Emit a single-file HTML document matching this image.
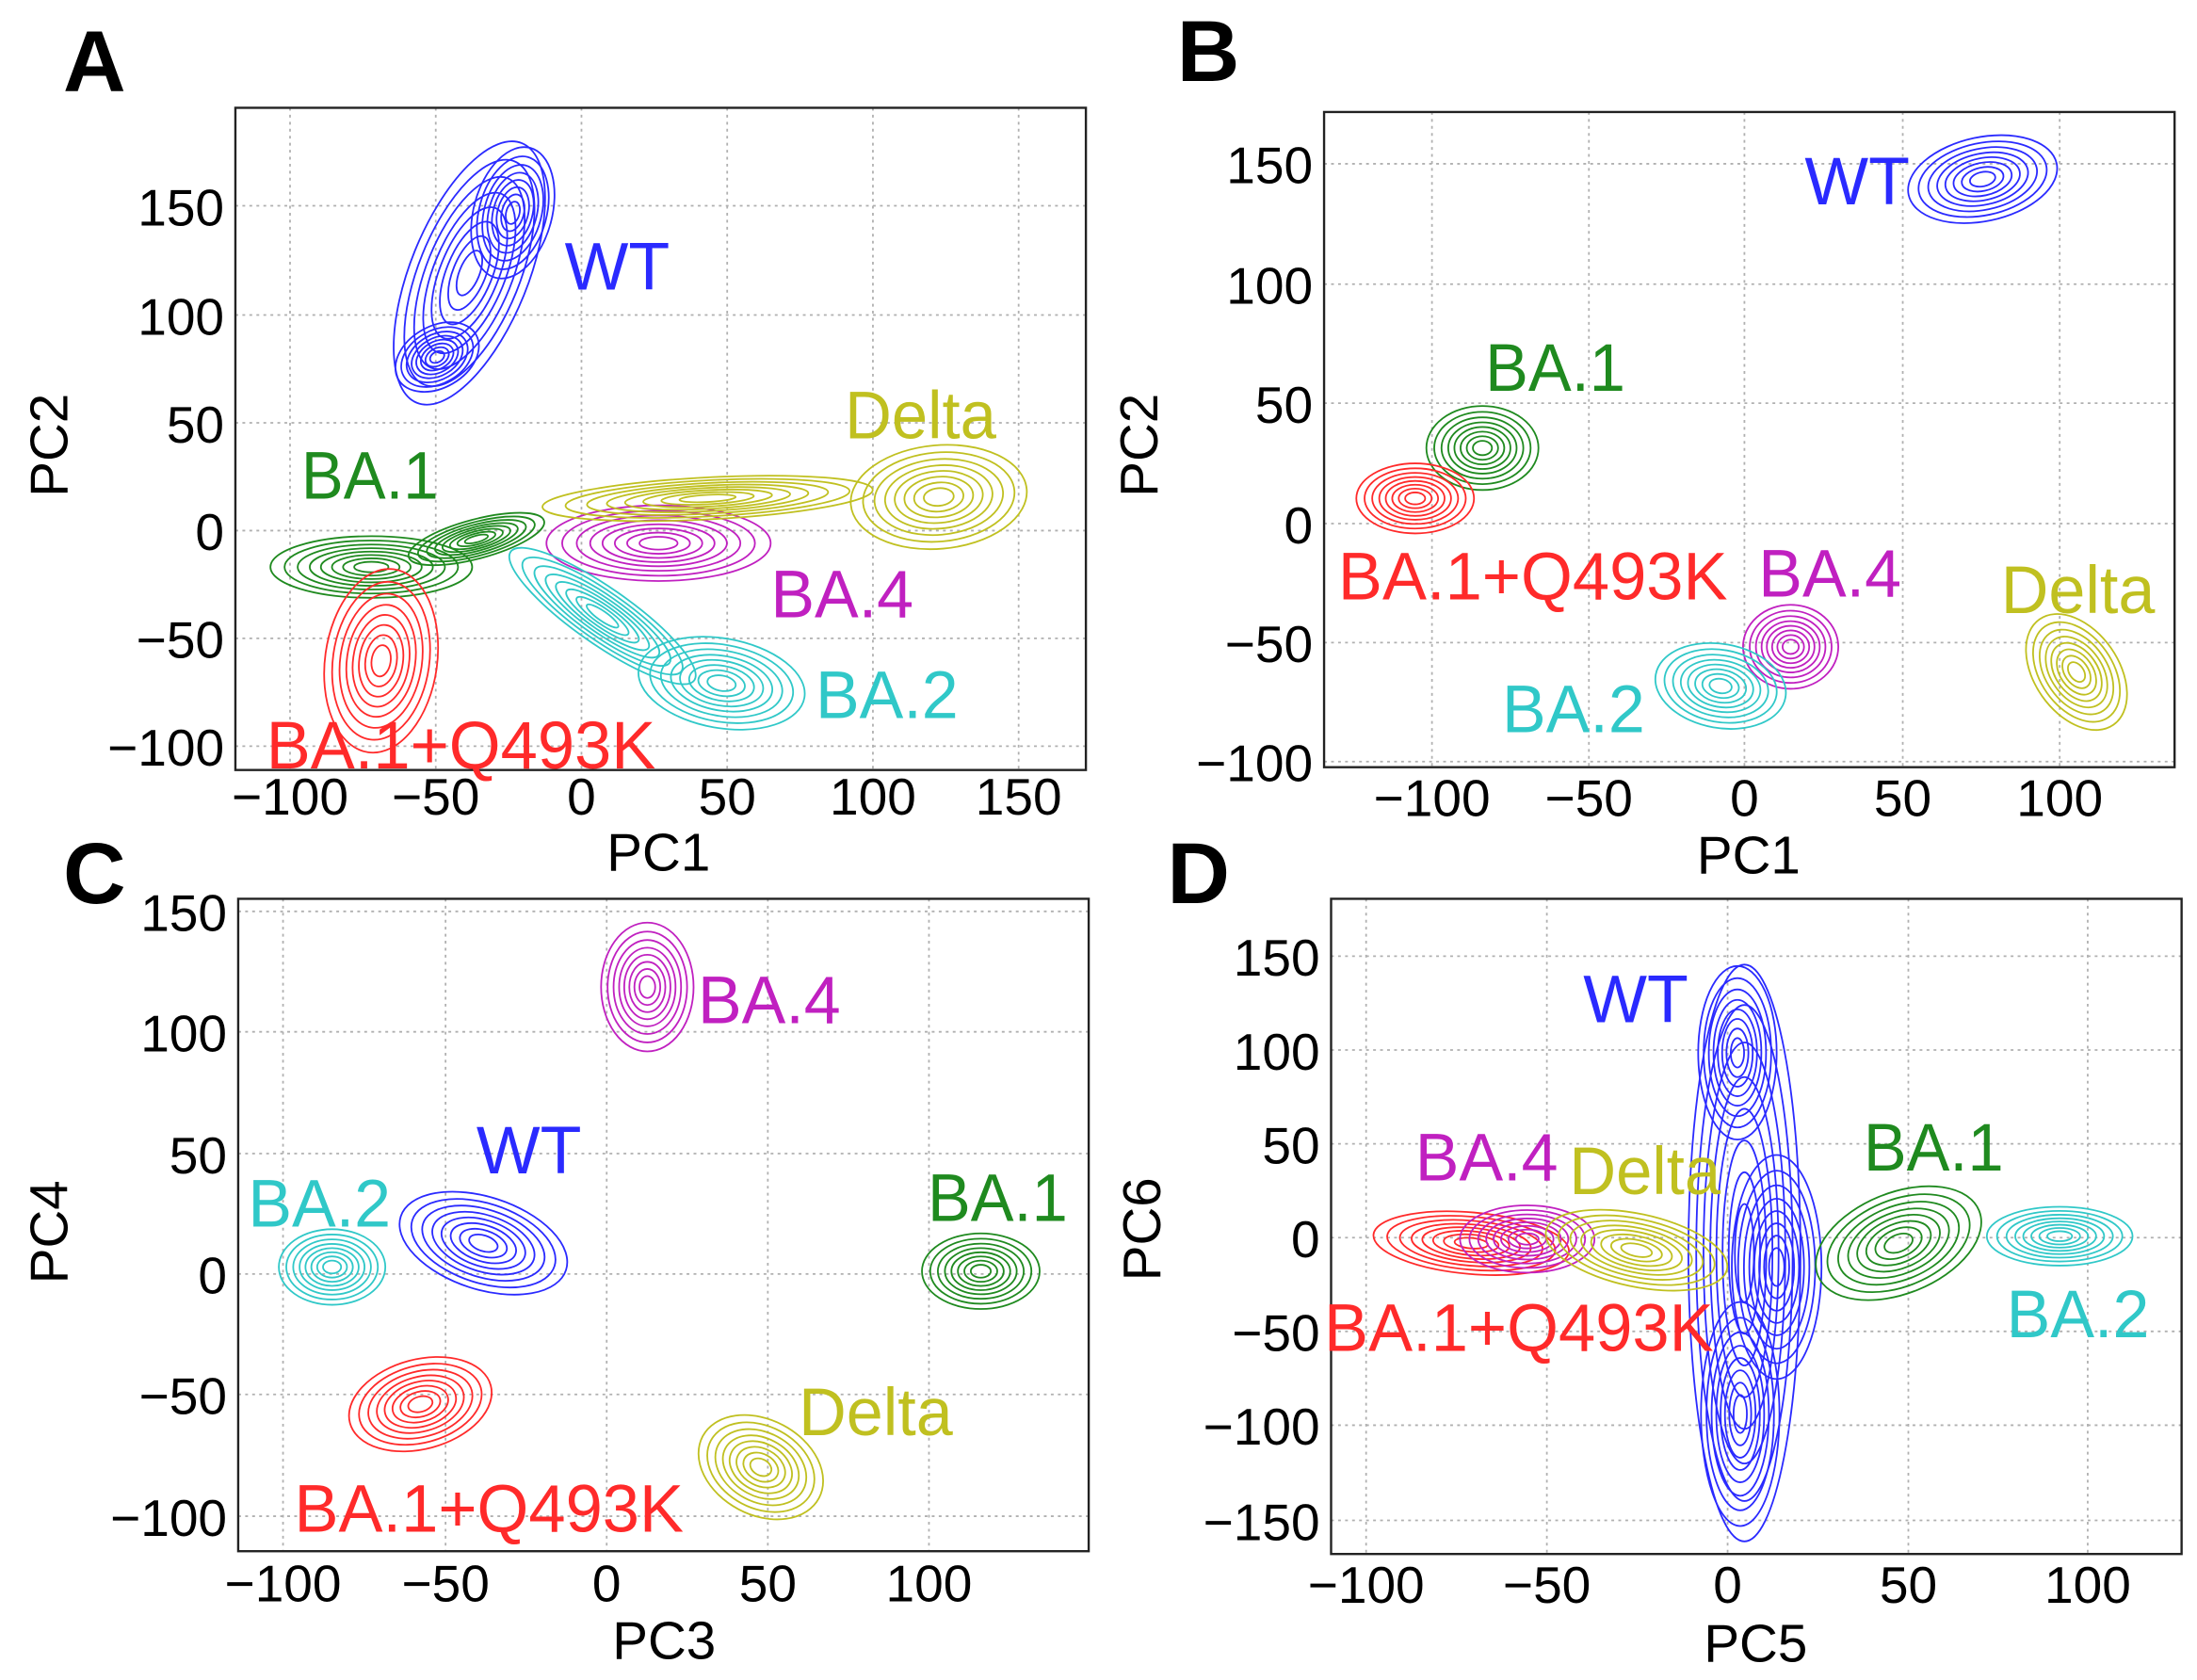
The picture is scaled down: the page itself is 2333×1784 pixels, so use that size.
<!DOCTYPE html>
<html><head><meta charset="utf-8"><style>
html,body{margin:0;padding:0;background:#fff}
svg{display:block}
text{font-family:"Liberation Sans",sans-serif}
.t{font-size:37px;fill:#000}
.al{font-size:38px;fill:#000}
.pl{font-size:62px;font-weight:bold;fill:#000}
.lb{font-size:48px}
.g{stroke:#b0b0b0;stroke-width:1.2;stroke-dasharray:2 3}
.ax{fill:none;stroke:#222;stroke-width:1.6}
.n ellipse{fill:none;stroke-width:1.8;vector-effect:non-scaling-stroke}
</style></head><body>
<svg width="2333" height="1784" viewBox="0 0 1568 1200" preserveAspectRatio="none" xmlns="http://www.w3.org/2000/svg">
<defs>
<g id="nest" class="n">
<ellipse rx="1" ry="1"/><ellipse rx=".86" ry=".86"/><ellipse rx=".73" ry=".73"/><ellipse rx=".61" ry=".61"/>
<ellipse rx=".5" ry=".5"/><ellipse rx=".39" ry=".39"/><ellipse rx=".28" ry=".28"/><ellipse rx=".17" ry=".17"/>
</g>
</defs>

<!-- Panel A -->
<text class="pl" x="45" y="65">A</text>
<g>
<line class="g" x1="207" y1="77" x2="207" y2="550"/><line class="g" x1="311" y1="77" x2="311" y2="550"/>
<line class="g" x1="415" y1="77" x2="415" y2="550"/><line class="g" x1="519" y1="77" x2="519" y2="550"/>
<line class="g" x1="623" y1="77" x2="623" y2="550"/><line class="g" x1="727" y1="77" x2="727" y2="550"/>
<line class="g" x1="168" y1="147" x2="775" y2="147"/><line class="g" x1="168" y1="225" x2="775" y2="225"/>
<line class="g" x1="168" y1="302" x2="775" y2="302"/><line class="g" x1="168" y1="379" x2="775" y2="379"/>
<line class="g" x1="168" y1="456" x2="775" y2="456"/><line class="g" x1="168" y1="533" x2="775" y2="533"/>
<g stroke="#2a2aff"><use href="#nest" transform="translate(335,195) rotate(-68) scale(100,42)"/><use href="#nest" transform="translate(366,152) rotate(-75) scale(48,28)"/><use href="#nest" transform="translate(312,255) rotate(-30) scale(32,22)"/></g>
<g stroke="#1f8a1f"><use href="#nest" transform="translate(265,405) scale(72,22)"/><use href="#nest" transform="translate(340,385) rotate(-15) scale(50,14)"/></g>
<g stroke="#ff2a2a"><use href="#nest" transform="translate(272,472) rotate(8) scale(40,66)"/></g>
<g stroke="#c020c0"><use href="#nest" transform="translate(470,388) scale(80,27)"/></g>
<g stroke="#c0c020"><use href="#nest" transform="translate(670,355) rotate(-5) scale(63,37)"/><use href="#nest" transform="translate(505,356) rotate(-3) scale(118,15)"/></g>
<g stroke="#30c8c8"><use href="#nest" transform="translate(430,440) rotate(35) scale(80,20)"/><use href="#nest" transform="translate(515,488) rotate(10) scale(60,32)"/></g>
<rect class="ax" x="168" y="77" width="607" height="473"/>
<g class="t" text-anchor="end"><text x="160" y="161">150</text><text x="160" y="239">100</text><text x="160" y="316">50</text><text x="160" y="393">0</text><text x="160" y="470">−50</text><text x="160" y="547">−100</text></g>
<g class="t" text-anchor="middle"><text x="207" y="582">−100</text><text x="311" y="582">−50</text><text x="415" y="582">0</text><text x="519" y="582">50</text><text x="623" y="582">100</text><text x="727" y="582">150</text></g>
<text class="al" x="470" y="622" text-anchor="middle">PC1</text>
<text class="al" transform="translate(48,318) rotate(-90)" text-anchor="middle">PC2</text>
<text class="lb" x="403" y="207" fill="#2a2aff" textLength="75" lengthAdjust="spacingAndGlyphs">WT</text>
<text class="lb" x="603" y="313" fill="#c0c020" textLength="108" lengthAdjust="spacingAndGlyphs">Delta</text>
<text class="lb" x="215" y="356" fill="#1f8a1f" textLength="98" lengthAdjust="spacingAndGlyphs">BA.1</text>
<text class="lb" x="550" y="441" fill="#c020c0" textLength="102" lengthAdjust="spacingAndGlyphs">BA.4</text>
<text class="lb" x="582" y="513" fill="#30c8c8" textLength="102" lengthAdjust="spacingAndGlyphs">BA.2</text>
<text class="lb" x="190" y="549" fill="#ff2a2a" textLength="278" lengthAdjust="spacingAndGlyphs">BA.1+Q493K</text>
</g>

<!-- Panel B -->
<text class="pl" x="840" y="58">B</text>
<g>
<line class="g" x1="1022" y1="80" x2="1022" y2="548"/><line class="g" x1="1134" y1="80" x2="1134" y2="548"/>
<line class="g" x1="1245" y1="80" x2="1245" y2="548"/><line class="g" x1="1358" y1="80" x2="1358" y2="548"/>
<line class="g" x1="1470" y1="80" x2="1470" y2="548"/>
<line class="g" x1="945" y1="117" x2="1552" y2="117"/><line class="g" x1="945" y1="203" x2="1552" y2="203"/>
<line class="g" x1="945" y1="288" x2="1552" y2="288"/><line class="g" x1="945" y1="374" x2="1552" y2="374"/>
<line class="g" x1="945" y1="459" x2="1552" y2="459"/><line class="g" x1="945" y1="544" x2="1552" y2="544"/>
<g stroke="#2a2aff"><use href="#nest" transform="translate(1415,128) rotate(-12) scale(54,30)"/></g>
<g stroke="#1f8a1f"><use href="#nest" transform="translate(1058,320) scale(40,30)"/></g>
<g stroke="#ff2a2a"><use href="#nest" transform="translate(1010,356) scale(42,25)"/></g>
<g stroke="#c020c0"><use href="#nest" transform="translate(1278,462) scale(34,30)"/></g>
<g stroke="#30c8c8"><use href="#nest" transform="translate(1228,490) rotate(10) scale(47,30)"/></g>
<g stroke="#c0c020"><use href="#nest" transform="translate(1482,480) rotate(55) scale(46,30)"/></g>
<rect class="ax" x="945" y="80" width="607" height="468"/>
<g class="t" text-anchor="end"><text x="937" y="131">150</text><text x="937" y="217">100</text><text x="937" y="302">50</text><text x="937" y="388">0</text><text x="937" y="473">−50</text><text x="937" y="558">−100</text></g>
<g class="t" text-anchor="middle"><text x="1022" y="583">−100</text><text x="1134" y="583">−50</text><text x="1245" y="583">0</text><text x="1358" y="583">50</text><text x="1470" y="583">100</text></g>
<text class="al" x="1248" y="624" text-anchor="middle">PC1</text>
<text class="al" transform="translate(826,318) rotate(-90)" text-anchor="middle">PC2</text>
<text class="lb" x="1288" y="146" fill="#2a2aff" textLength="75" lengthAdjust="spacingAndGlyphs">WT</text>
<text class="lb" x="1060" y="279" fill="#1f8a1f" textLength="100" lengthAdjust="spacingAndGlyphs">BA.1</text>
<text class="lb" x="955" y="428" fill="#ff2a2a" textLength="278" lengthAdjust="spacingAndGlyphs">BA.1+Q493K</text>
<text class="lb" x="1255" y="426" fill="#c020c0" textLength="102" lengthAdjust="spacingAndGlyphs">BA.4</text>
<text class="lb" x="1428" y="438" fill="#c0c020" textLength="110" lengthAdjust="spacingAndGlyphs">Delta</text>
<text class="lb" x="1072" y="523" fill="#30c8c8" textLength="102" lengthAdjust="spacingAndGlyphs">BA.2</text>
</g>

<!-- Panel C -->
<text class="pl" x="45" y="645">C</text>
<g>
<line class="g" x1="202" y1="642" x2="202" y2="1108"/><line class="g" x1="318" y1="642" x2="318" y2="1108"/>
<line class="g" x1="433" y1="642" x2="433" y2="1108"/><line class="g" x1="548" y1="642" x2="548" y2="1108"/>
<line class="g" x1="663" y1="642" x2="663" y2="1108"/>
<line class="g" x1="170" y1="651" x2="777" y2="651"/><line class="g" x1="170" y1="737" x2="777" y2="737"/>
<line class="g" x1="170" y1="824" x2="777" y2="824"/><line class="g" x1="170" y1="910" x2="777" y2="910"/>
<line class="g" x1="170" y1="996" x2="777" y2="996"/><line class="g" x1="170" y1="1083" x2="777" y2="1083"/>
<g stroke="#c020c0"><use href="#nest" transform="translate(462,705) scale(33,46)"/></g>
<g stroke="#2a2aff"><use href="#nest" transform="translate(345,888) rotate(18) scale(62,33)"/></g>
<g stroke="#30c8c8"><use href="#nest" transform="translate(237,905) scale(38,27)"/></g>
<g stroke="#1f8a1f"><use href="#nest" transform="translate(700,908) scale(42,27)"/></g>
<g stroke="#ff2a2a"><use href="#nest" transform="translate(300,1003) rotate(-15) scale(52,32)"/></g>
<g stroke="#c0c020"><use href="#nest" transform="translate(543,1048) rotate(28) scale(47,34)"/></g>
<rect class="ax" x="170" y="642" width="607" height="466"/>
<g class="t" text-anchor="end"><text x="162" y="665">150</text><text x="162" y="751">100</text><text x="162" y="838">50</text><text x="162" y="924">0</text><text x="162" y="1010">−50</text><text x="162" y="1097">−100</text></g>
<g class="t" text-anchor="middle"><text x="202" y="1144">−100</text><text x="318" y="1144">−50</text><text x="433" y="1144">0</text><text x="548" y="1144">50</text><text x="663" y="1144">100</text></g>
<text class="al" x="474" y="1185" text-anchor="middle">PC3</text>
<text class="al" transform="translate(48,880) rotate(-90)" text-anchor="middle">PC4</text>
<text class="lb" x="498" y="731" fill="#c020c0" textLength="102" lengthAdjust="spacingAndGlyphs">BA.4</text>
<text class="lb" x="340" y="838" fill="#2a2aff" textLength="75" lengthAdjust="spacingAndGlyphs">WT</text>
<text class="lb" x="177" y="876" fill="#30c8c8" textLength="102" lengthAdjust="spacingAndGlyphs">BA.2</text>
<text class="lb" x="662" y="872" fill="#1f8a1f" textLength="100" lengthAdjust="spacingAndGlyphs">BA.1</text>
<text class="lb" x="570" y="1025" fill="#c0c020" textLength="110" lengthAdjust="spacingAndGlyphs">Delta</text>
<text class="lb" x="210" y="1094" fill="#ff2a2a" textLength="278" lengthAdjust="spacingAndGlyphs">BA.1+Q493K</text>
</g>

<!-- Panel D -->
<text class="pl" x="833" y="645">D</text>
<g>
<line class="g" x1="975" y1="642" x2="975" y2="1110"/><line class="g" x1="1104" y1="642" x2="1104" y2="1110"/>
<line class="g" x1="1233" y1="642" x2="1233" y2="1110"/><line class="g" x1="1362" y1="642" x2="1362" y2="1110"/>
<line class="g" x1="1490" y1="642" x2="1490" y2="1110"/>
<line class="g" x1="950" y1="683" x2="1557" y2="683"/><line class="g" x1="950" y1="750" x2="1557" y2="750"/>
<line class="g" x1="950" y1="817" x2="1557" y2="817"/><line class="g" x1="950" y1="884" x2="1557" y2="884"/>
<line class="g" x1="950" y1="951" x2="1557" y2="951"/><line class="g" x1="950" y1="1018" x2="1557" y2="1018"/>
<line class="g" x1="950" y1="1086" x2="1557" y2="1086"/>
<g stroke="#2a2aff"><use href="#nest" transform="translate(1245,895) scale(40,206)"/><use href="#nest" transform="translate(1240,752) scale(28,62)"/><use href="#nest" transform="translate(1242,1010) scale(28,80)"/><use href="#nest" transform="translate(1268,905) scale(32,80)"/></g>
<g stroke="#ff2a2a"><use href="#nest" transform="translate(1050,888) rotate(5) scale(70,22)"/></g>
<g stroke="#c020c0"><use href="#nest" transform="translate(1090,885) scale(48,24)"/></g>
<g stroke="#c0c020"><use href="#nest" transform="translate(1168,893) rotate(12) scale(66,26)"/></g>
<g stroke="#1f8a1f"><use href="#nest" transform="translate(1355,888) rotate(-22) scale(62,36)"/></g>
<g stroke="#30c8c8"><use href="#nest" transform="translate(1470,883) scale(52,21)"/></g>
<rect class="ax" x="950" y="642" width="607" height="468"/>
<g class="t" text-anchor="end"><text x="942" y="697">150</text><text x="942" y="764">100</text><text x="942" y="831">50</text><text x="942" y="898">0</text><text x="942" y="965">−50</text><text x="942" y="1032">−100</text><text x="942" y="1100">−150</text></g>
<g class="t" text-anchor="middle"><text x="975" y="1145">−100</text><text x="1104" y="1145">−50</text><text x="1233" y="1145">0</text><text x="1362" y="1145">50</text><text x="1490" y="1145">100</text></g>
<text class="al" x="1253" y="1187" text-anchor="middle">PC5</text>
<text class="al" transform="translate(828,878) rotate(-90)" text-anchor="middle">PC6</text>
<text class="lb" x="1130" y="730" fill="#2a2aff" textLength="75" lengthAdjust="spacingAndGlyphs">WT</text>
<text class="lb" x="1010" y="843" fill="#c020c0" textLength="102" lengthAdjust="spacingAndGlyphs">BA.4</text>
<text class="lb" x="1120" y="853" fill="#c0c020" textLength="108" lengthAdjust="spacingAndGlyphs">Delta</text>
<text class="lb" x="1330" y="836" fill="#1f8a1f" textLength="100" lengthAdjust="spacingAndGlyphs">BA.1</text>
<text class="lb" x="1432" y="955" fill="#30c8c8" textLength="102" lengthAdjust="spacingAndGlyphs">BA.2</text>
<text class="lb" x="945" y="965" fill="#ff2a2a" textLength="278" lengthAdjust="spacingAndGlyphs">BA.1+Q493K</text>
</g>
</svg>
</body></html>
